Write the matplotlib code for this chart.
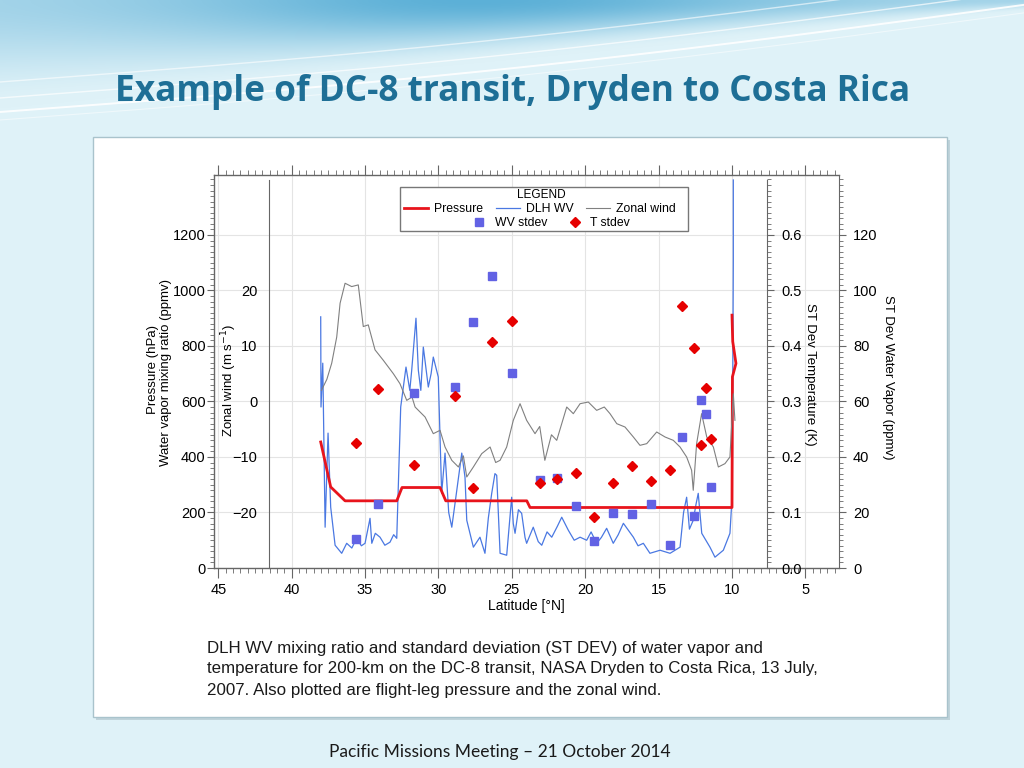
import numpy as np
import matplotlib
matplotlib.use("Agg")
import matplotlib.pyplot as plt
from matplotlib.patches import Rectangle
from matplotlib.lines import Line2D
from matplotlib.ticker import MultipleLocator, FixedLocator, FormatStrFormatter

# ---------------- data ----------------
pres_lat = [38.02, 37.34, 36.36, 32.84, 32.48, 29.89, 29.50, 23.98, 23.76, 10.00, 9.97, 9.73, 9.95, 10.00]
pres_hpa = [454, 292, 242, 242, 290, 290, 242, 242, 218, 218, 689, 737, 816, 911]

wv_lat = [38.02, 38.00, 37.88, 37.72, 37.52, 37.34, 37.04, 36.59, 36.25, 35.90, 35.57, 35.25, 35.00,
          34.66, 34.54, 34.30, 33.98, 33.65, 33.30, 33.05, 32.84, 32.57, 32.21, 31.95, 31.82, 31.53,
          31.37, 31.20, 31.03, 30.69, 30.50, 30.35, 30.01, 29.78, 29.55, 29.30, 29.09, 28.80, 28.41,
          28.19, 28.07, 27.62, 27.17, 26.83, 26.60, 26.37, 26.15, 26.03, 25.80, 25.35, 25.01, 24.90,
          24.78, 24.55, 24.33, 24.10, 23.99, 23.54, 23.20, 22.96, 22.60, 22.28, 21.90, 21.60, 21.15,
          20.75, 20.35, 19.90, 19.60, 19.22, 18.90, 18.54, 18.09, 17.75, 17.40, 16.72, 16.40, 16.04,
          15.59, 14.90, 14.22, 13.54, 13.30, 13.09, 12.90, 12.64, 12.45, 12.30, 12.06, 11.50, 11.16,
          10.59, 10.14, 9.98, 9.91, 9.91]
wv_ppmv = [905, 580, 738, 147, 486, 219, 82, 53, 89, 72, 107, 80, 89,
           179, 89, 125, 111, 82, 93, 120, 107, 580, 724, 640, 713, 900,
           713, 640, 796, 652, 700, 760, 688, 269, 414, 200, 147, 260, 414,
           327, 172, 75, 111, 53, 180, 269, 340, 334, 53, 46, 255, 160,
           125, 210, 197, 110, 89, 147, 95, 82, 130, 111, 150, 183, 136,
           100, 111, 100, 130, 89, 110, 143, 89, 120, 161, 111, 80, 89,
           53, 64, 53, 75, 200, 255, 140, 172, 230, 269, 125, 75, 39,
           64, 125, 269, 1110, 1398]

wind_lat = [37.97, 37.60, 37.27, 36.93, 36.70, 36.36, 35.91, 35.46, 35.12, 34.78, 34.32, 33.75, 33.07,
            32.62, 32.16, 31.80, 31.59, 30.91, 30.35, 29.89, 29.55, 29.09, 28.64, 28.30, 28.07, 27.62,
            27.05, 26.48, 26.10, 25.80, 25.35, 24.90, 24.44, 23.99, 23.42, 23.10, 22.75, 22.30, 21.94,
            21.26, 20.81, 20.35, 19.79, 19.22, 18.70, 18.31, 17.85, 17.29, 16.72, 16.27, 15.81, 15.13,
            14.56, 14.00, 13.54, 13.09, 12.75, 12.64, 12.41, 12.07, 11.72, 11.27, 10.93, 10.48, 10.14,
            9.91, 9.80]
wind_ms = [2.0, 4.0, 6.9, 11.6, 17.7, 21.3, 20.7, 21.0, 13.5, 13.8, 9.3, 7.4, 5.0,
           3.2, 0.2, 0.8, -1.0, -2.8, -5.8, -5.2, -8.2, -10.6, -11.8, -9.8, -13.6, -11.8,
           -9.4, -8.2, -11.0, -10.6, -8.2, -3.4, -0.4, -3.4, -5.8, -4.5, -10.6, -6.0, -7.0,
           -1.0, -2.2, -0.4, -0.1, -1.6, -1.0, -2.2, -4.0, -4.6, -6.4, -7.9, -7.6, -5.5,
           -6.4, -7.0, -8.2, -10.0, -12.4, -16.0, -7.6, -2.2, -6.4, -8.2, -11.8, -11.2, -10.0,
           1.4, -3.4]

wvsd_lat = [35.61, 34.10, 31.66, 28.87, 27.62, 26.32, 25.01, 23.08, 21.90, 20.65, 19.40, 18.13,
            16.83, 15.54, 14.22, 13.39, 12.59, 12.13, 11.77, 11.45]
wvsd_ppmv = [10.6, 23.2, 62.9, 65.1, 88.5, 105.2, 70.3, 31.6, 32.5, 22.2, 9.7, 19.8,
             19.3, 23.0, 8.2, 47.2, 18.6, 60.5, 55.4, 29.2]

tsd_lat = [35.61, 34.11, 31.66, 28.87, 27.62, 26.33, 25.01, 23.08, 21.90, 20.65, 19.40, 18.13,
           16.83, 15.54, 14.22, 13.39, 12.59, 12.13, 11.77, 11.45]
tsd_k = [0.226, 0.322, 0.186, 0.310, 0.145, 0.407, 0.445, 0.153, 0.161, 0.171, 0.092, 0.153,
         0.184, 0.156, 0.177, 0.472, 0.397, 0.222, 0.325, 0.232]

lat_ticks = [45, 40, 35, 30, 25, 20, 15, 10, 5]
pres_ticks = [0, 200, 400, 600, 800, 1000, 1200]
wind_ticks = [-20, -10, 0, 10, 20]
tsd_ticks = [0.0, 0.1, 0.2, 0.3, 0.4, 0.5, 0.6]
wvsd_ticks = [0, 20, 40, 60, 80, 100, 120]

title = "Example of DC-8 transit, Dryden to Costa Rica"
caption = ["DLH WV mixing ratio and standard deviation (ST DEV) of water vapor and",
           "temperature for 200-km on the DC-8 transit, NASA Dryden to Costa Rica, 13 July,",
           "2007. Also plotted are flight-leg pressure and the zonal wind."]
footer = "Pacific Missions Meeting \u2013 21 October 2014"

# ---------------- figure / slide ----------------
W, H = 1024, 768
fig = plt.figure(figsize=(10.24, 7.68), dpi=100)
fig.patch.set_facecolor("#dff2f8")

bg = fig.add_axes([0, 0, 1, 1], zorder=-10)
bg.set_xlim(0, W)
bg.set_ylim(H, 0)
bg.axis("off")

# banner gradient (decoration)
yy, xx = np.mgrid[0:H, 0:W].astype(float)
base = np.array([223, 242, 248]) / 255.0
edge = 108 - 0.095 * xx
t = np.clip(1 - yy / np.maximum(edge, 1), 0, 1)
t = t * t * (3 - 2 * t)
center = np.exp(-((xx - 480) / 300.0) ** 2)
dark = np.array([92, 176, 215]) / 255.0
light = np.array([168, 214, 234]) / 255.0
topc = light[None, None, :] * (1 - center[..., None]) + dark[None, None, :] * center[..., None]
img = base[None, None, :] * (1 - t[..., None]) + topc * t[..., None]
bg.imshow(img, extent=[0, W, H, 0], aspect="auto", zorder=0)
sx = np.linspace(0, W, 200)
for off, a, lw in [(0, 0.9, 1.4), (-14, 0.7, 1.0), (-30, 0.6, 1.0), (8, 0.5, 0.8)]:
    bg.plot(sx, 112 + off - 0.105 * sx + 10 * np.sin(sx / 330.0), color="white", lw=lw, alpha=a, zorder=1)

# panel
bg.add_patch(Rectangle((96, 140), 854, 580, facecolor="#bfd3da", edgecolor="none", zorder=2))
bg.add_patch(Rectangle((93, 137), 854, 580, facecolor="white", edgecolor="#a9c3cc", lw=1, zorder=3))

bg.text(115, 92, title, fontsize=25.4, fontweight="bold", color="#1e6f96",
        family=["Open Sans", "DejaVu Sans"], ha="left", va="center", zorder=5)
for i, line in enumerate(caption):
    bg.text(207, 648 + 21 * i, line, fontsize=12.2, color="#1a1a1a",
            family=["Liberation Sans", "DejaVu Sans"], ha="left", va="center", zorder=5)
bg.text(500, 752, footer, fontsize=12.5, color="#1a1a1a", family=["Lato", "DejaVu Sans"],
        ha="center", va="center", zorder=5)

# ---------------- chart ----------------
NF = ["Liberation Sans Narrow", "Liberation Sans", "DejaVu Sans"]
fx = lambda px: px / W
fy = lambda py: 1 - py / H

ax = fig.add_axes([fx(214), fy(568), 625 / W, 393 / H])
ax.set_xlim(45.29, 2.71)
ax.set_ylim(0, 1416)
ax.set_axisbelow(True)
ax.grid(True, which="major", color="#e4e4e4", lw=0.8)
ax.plot(wv_lat, wv_ppmv, color="#4a78e2", lw=0.9, zorder=2)
ax.plot(pres_lat, pres_hpa, color="#e8141c", lw=2.0, zorder=3)

spc = "#666666"
for s in ax.spines.values():
    s.set_color(spc)
    s.set_linewidth(1)
ax.spines["right"].set_visible(False)
ax.xaxis.set_major_locator(FixedLocator(lat_ticks))
ax.xaxis.set_minor_locator(MultipleLocator(0.5))
ax.yaxis.set_major_locator(FixedLocator(pres_ticks))
ax.yaxis.set_minor_locator(MultipleLocator(20))
ax.tick_params(axis="x", which="both", direction="out", top=True, bottom=True, labeltop=False,
               colors=spc, labelcolor="black", labelsize=10.5, pad=4)
ax.tick_params(axis="x", which="major", length=7)
ax.tick_params(axis="x", which="minor", length=3.5)
ax.tick_params(axis="y", which="both", direction="out", left=True, right=False,
               colors=spc, labelcolor="black", labelsize=10.5, pad=1)
ax.tick_params(axis="y", which="major", length=5)
ax.tick_params(axis="y", which="minor", length=3)
for lab in ax.get_xticklabels() + ax.get_yticklabels():
    lab.set_family(NF)
ax.set_xlabel("Latitude [\u00b0N]", family=NF, fontsize=10, labelpad=1)

# zonal wind axis (inner left)
axw = ax.twinx()
axw.set_ylim(-30, 40.8)
axw.plot(wind_lat, wind_ms, color="#808080", lw=0.8, zorder=1)
for k in ["top", "bottom", "right"]:
    axw.spines[k].set_visible(False)
axw.spines["left"].set_visible(True)
axw.spines["left"].set_position(("axes", 0.088))
axw.spines["left"].set_bounds(-30, 39.9)
axw.spines["left"].set_color(spc)
axw.yaxis.set_ticks_position("left")
axw.yaxis.set_major_locator(FixedLocator(wind_ticks))
axw.tick_params(axis="y", length=0, pad=8.5, labelsize=10.5)
for lab in axw.get_yticklabels():
    lab.set_family(NF)

# ST dev WV axis (outer right)
axv = ax.twinx()
axv.set_ylim(0, 141.6)
axv.plot(wvsd_lat, wvsd_ppmv, ls="none", marker="s", ms=5.6, mfc="#6262e4", mec="#6262e4", zorder=4)
for k in ["top", "bottom", "left"]:
    axv.spines[k].set_visible(False)
axv.spines["right"].set_color(spc)
axv.yaxis.set_major_locator(FixedLocator(wvsd_ticks))
axv.yaxis.set_minor_locator(MultipleLocator(2))
axv.tick_params(axis="y", which="both", direction="out", colors=spc, labelcolor="black", labelsize=10.5, pad=5)
axv.tick_params(axis="y", which="major", length=5)
axv.tick_params(axis="y", which="minor", length=3)
for lab in axv.get_yticklabels():
    lab.set_family(NF)

# ST dev T axis (inner right)
axt = ax.twinx()
axt.set_ylim(0, 0.708)
axt.plot(tsd_lat, tsd_k, ls="none", marker="D", ms=5.6, mfc="#e60000", mec="#e60000", zorder=5)
for k in ["top", "bottom", "left"]:
    axt.spines[k].set_visible(False)
axt.spines["right"].set_position(("axes", 0.8848))
axt.spines["right"].set_bounds(0, 0.699)
axt.spines["right"].set_color(spc)
axt.yaxis.set_major_locator(FixedLocator(tsd_ticks))
axt.yaxis.set_minor_locator(MultipleLocator(0.01))
axt.yaxis.set_major_formatter(FormatStrFormatter("%.1f"))
axt.tick_params(axis="y", which="both", direction="out", colors=spc, labelcolor="black", labelsize=10.5, pad=5)
axt.tick_params(axis="y", which="major", length=5)
axt.tick_params(axis="y", which="minor", length=3)
for lab in axt.get_yticklabels():
    lab.set_family(NF)

# axis titles
fig.text(fx(153), fy(370), "Pressure (hPa)", rotation=90, ha="center", va="center", family=NF, fontsize=9.5)
fig.text(fx(166), fy(372), "Water vapor mixing ratio (ppmv)", rotation=90, ha="center", va="center", family=NF, fontsize=9.5)
fig.text(fx(229), fy(380), "Zonal wind (m s$^{-1}$)", rotation=90, ha="center", va="center", family=NF, fontsize=9.5)
fig.text(fx(810), fy(374), "ST Dev Temperature (K)", rotation=270, ha="center", va="center", family=NF, fontsize=9.5)
fig.text(fx(888), fy(377), "ST Dev Water Vapor (ppmv)", rotation=270, ha="center", va="center", family=NF, fontsize=9.5)

# legend
fig.add_artist(Rectangle((fx(400), fy(231)), 288 / W, 44 / H, transform=fig.transFigure,
                         facecolor="white", edgecolor="#777777", lw=1, zorder=4))
fig.text(fx(541), fy(195), "LEGEND", ha="center", va="center", family=NF, fontsize=8.5, zorder=6)
h1 = [Line2D([], [], color="#e8141c", lw=2.0),
      Line2D([], [], color="#4a78e2", lw=0.9),
      Line2D([], [], color="#808080", lw=0.8)]
leg1 = fig.legend(h1, ["Pressure", "DLH WV", "Zonal wind"], ncol=3, frameon=False,
                  loc="center", bbox_to_anchor=(fx(540), fy(209)), prop={"family": NF, "size": 8.8},
                  handlelength=2.0, columnspacing=1.0, handletextpad=0.5, borderpad=0)
h2 = [Line2D([], [], ls="none", marker="s", ms=5.6, mfc="#6262e4", mec="#6262e4"),
      Line2D([], [], ls="none", marker="D", ms=5.6, mfc="#e60000", mec="#e60000")]
leg2 = fig.legend(h2, ["WV stdev", "T stdev"], ncol=2, frameon=False,
                  loc="center", bbox_to_anchor=(fx(550), fy(223)), prop={"family": NF, "size": 8.8},
                  handlelength=1.5, columnspacing=1.5, handletextpad=0.5, borderpad=0)
leg1.set_zorder(6)
leg2.set_zorder(6)

fig.savefig("out.png", dpi=100)
